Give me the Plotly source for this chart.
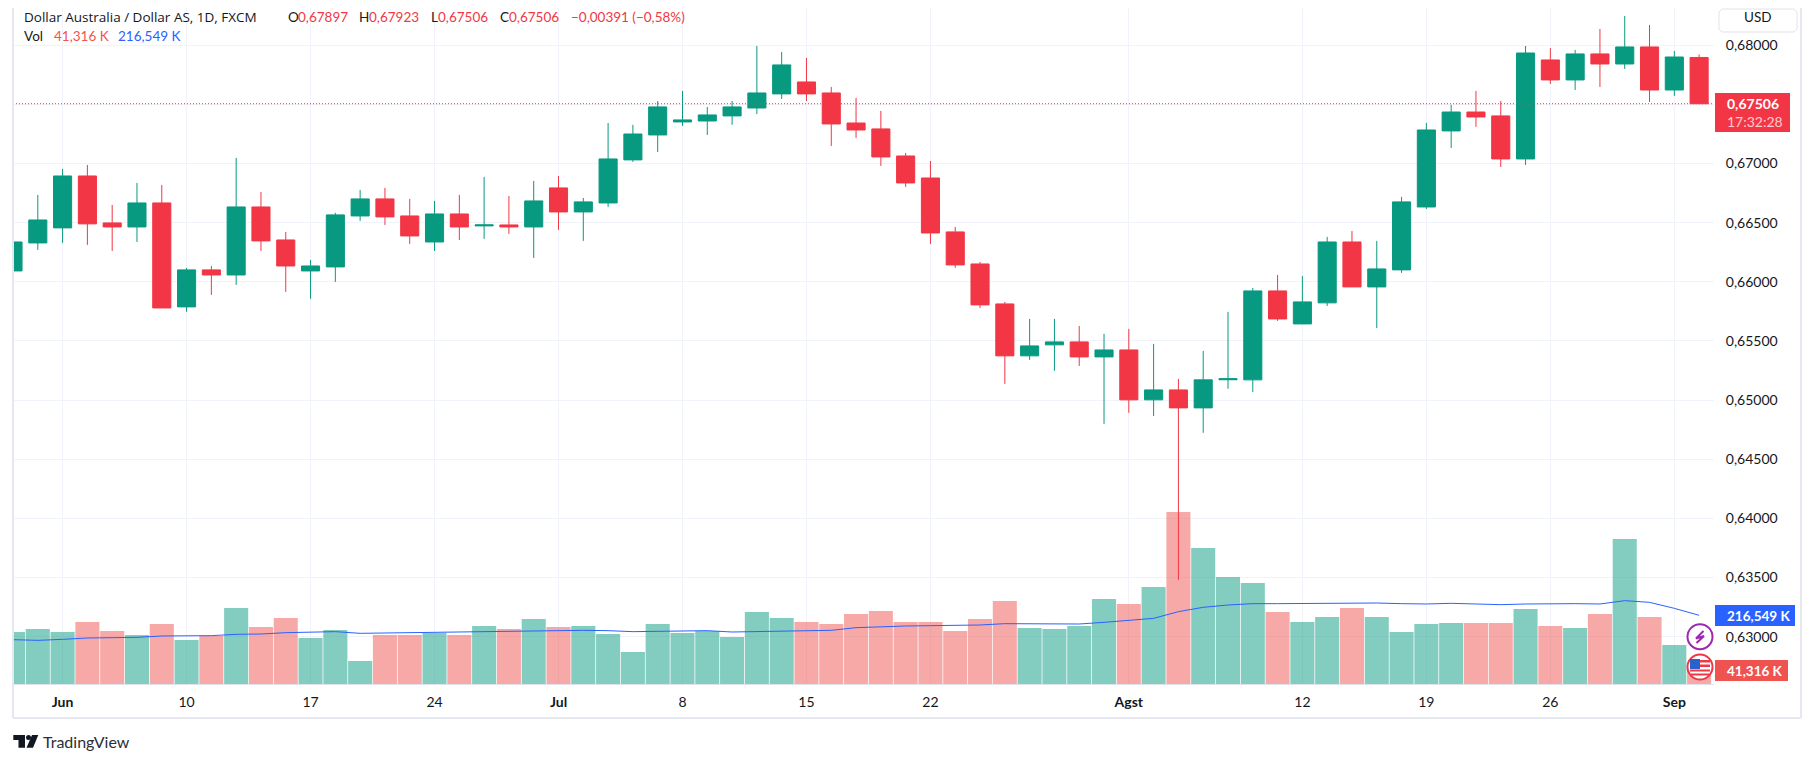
import pandas as pd
import plotly.graph_objects as go

# --- Data ---
dates = pd.bdate_range("2024-05-30", periods=69).strftime("%Y-%m-%d").tolist()

opens = [0.66092, 0.66329, 0.66456, 0.66895, 0.66498, 0.66464, 0.66667, 0.65788, 0.66101, 0.66058,
         0.66633, 0.66354, 0.66092, 0.66126, 0.66557, 0.66701, 0.66557, 0.66337, 0.66574, 0.66473,
         0.66481, 0.66464, 0.66794, 0.66591, 0.66667, 0.67031, 0.67242, 0.67352, 0.67360, 0.67403,
         0.67470, 0.67589, 0.67690, 0.67597, 0.67343, 0.67293, 0.67064, 0.66878, 0.66422, 0.66151,
         0.65813, 0.65374, 0.65467, 0.65492, 0.65365, 0.65424, 0.65002, 0.65086, 0.64934, 0.65172,
         0.65171, 0.65923, 0.65644, 0.65822, 0.66337, 0.65957, 0.66101, 0.66633, 0.67276, 0.67436,
         0.67403, 0.67039, 0.67876, 0.67707, 0.67927, 0.67842, 0.67986, 0.67622, 0.67897]
highs = [0.66337, 0.66735, 0.66955, 0.66988, 0.66650, 0.66836, 0.66819, 0.66118, 0.66134, 0.67048,
         0.66760, 0.66422, 0.66185, 0.66583, 0.66777, 0.66794, 0.66701, 0.66684, 0.66735, 0.66887,
         0.66726, 0.66853, 0.66895, 0.66709, 0.67343, 0.67327, 0.67529, 0.67614, 0.67479, 0.67529,
         0.67994, 0.67944, 0.67893, 0.67648, 0.67555, 0.67445, 0.67090, 0.67022, 0.66464, 0.66168,
         0.65830, 0.65686, 0.65686, 0.65627, 0.65560, 0.65602, 0.65475, 0.65179, 0.65416, 0.65746,
         0.65948, 0.66058, 0.66050, 0.66380, 0.66430, 0.66346, 0.66718, 0.67343, 0.67496, 0.67614,
         0.67529, 0.67994, 0.67977, 0.67961, 0.68138, 0.68248, 0.68172, 0.67952, 0.67923]
lows = [0.66092, 0.66270, 0.66329, 0.66312, 0.66261, 0.66337, 0.65779, 0.65746, 0.65889, 0.65974,
        0.66261, 0.65915, 0.65856, 0.65999, 0.66515, 0.66481, 0.66320, 0.66261, 0.66354, 0.66363,
        0.66405, 0.66202, 0.66439, 0.66346, 0.66633, 0.67014, 0.67098, 0.67318, 0.67242, 0.67327,
        0.67419, 0.67546, 0.67529, 0.67149, 0.67217, 0.66980, 0.66802, 0.66320, 0.66118, 0.65779,
        0.65137, 0.65340, 0.65247, 0.65289, 0.64799, 0.64892, 0.64866, 0.63480, 0.64723, 0.65095,
        0.65069, 0.65670, 0.65644, 0.65796, 0.65957, 0.65610, 0.66075, 0.66616, 0.67132, 0.67310,
        0.66971, 0.66988, 0.67673, 0.67622, 0.67648, 0.67800, 0.67521, 0.67572, 0.67506]
closes = [0.66337, 0.66523, 0.66895, 0.66490, 0.66464, 0.66667, 0.65779, 0.66101, 0.66058, 0.66633,
          0.66346, 0.66134, 0.66134, 0.66566, 0.66701, 0.66549, 0.66388, 0.66574, 0.66464, 0.66481,
          0.66464, 0.66684, 0.66591, 0.66676, 0.67039, 0.67250, 0.67479, 0.67369, 0.67411, 0.67479,
          0.67597, 0.67834, 0.67589, 0.67335, 0.67284, 0.67056, 0.66836, 0.66413, 0.66143, 0.65805,
          0.65374, 0.65458, 0.65492, 0.65365, 0.65424, 0.65002, 0.65086, 0.64934, 0.65171, 0.65180,
          0.65923, 0.65686, 0.65830, 0.66337, 0.65957, 0.66109, 0.66676, 0.67284, 0.67436, 0.67394,
          0.67039, 0.67935, 0.67707, 0.67927, 0.67842, 0.67986, 0.67622, 0.67901, 0.67506]

# volume and its moving average, in thousands
volume = [163.9, 173.4, 163.9, 195.4, 167.1, 154.5, 189.1, 138.7, 151.3, 239.6,
          179.7, 208.0, 145.0, 170.2, 72.5, 154.5, 154.5, 160.8, 154.5, 182.8,
          173.4, 204.9, 179.7, 182.8, 157.6, 100.9, 189.1, 160.8, 167.1, 148.1,
          227.0, 208.0, 195.4, 189.1, 220.6, 230.1, 195.4, 195.4, 167.1, 204.9,
          261.6, 176.5, 173.4, 182.8, 267.9, 252.2, 305.8, 542.2, 428.7, 337.3,
          318.4, 227.0, 195.4, 211.2, 239.6, 211.2, 163.9, 189.1, 192.3, 192.3,
          192.3, 236.4, 182.8, 176.5, 220.6, 457.1, 211.2, 122.9, 41.316]
volume_dir = ["up", "up", "up", "down", "down", "up", "down", "up", "down", "up",
              "down", "down", "up", "up", "up", "down", "down", "up", "down", "up",
              "down", "up", "down", "up", "up", "up", "up", "up", "up", "up",
              "up", "up", "down", "down", "down", "down", "down", "down", "down", "down",
              "down", "up", "up", "up", "up", "down", "up", "down", "up", "up",
              "up", "down", "up", "up", "down", "up", "up", "up", "up", "down",
              "down", "up", "down", "up", "down", "up", "down", "up", "down"]
volume_ma = [139.7, 137.6, 140.8, 145.0, 146.0, 147.1, 151.3, 151.3, 152.4, 156.6,
             157.6, 161.8, 163.9, 165.0, 159.7, 160.8, 161.8, 165.0, 166.0, 167.1,
             167.1, 169.2, 170.2, 169.2, 168.1, 165.0, 166.0, 168.1, 168.1, 163.9,
             165.0, 166.0, 167.1, 169.2, 177.6, 180.7, 182.8, 183.9, 183.9, 186.0,
             190.2, 189.1, 189.1, 189.1, 194.4, 200.7, 207.0, 228.0, 241.7, 249.0,
             253.2, 253.2, 254.3, 255.3, 256.4, 255.3, 253.2, 252.2, 254.3, 253.2,
             250.1, 252.2, 253.2, 253.2, 252.2, 262.7, 257.4, 238.5, 216.549]

tick_dates = ["2024-06-03", "2024-06-10", "2024-06-17", "2024-06-24", "2024-07-01", "2024-07-08", "2024-07-15",
              "2024-07-22", "2024-08-01", "2024-08-12", "2024-08-19", "2024-08-26", "2024-09-02"]
tick_labels = ["<b>Jun</b>", "10", "17", "24", "<b>Jul</b>", "8", "15", "22", "<b>Agst</b>", "12", "19", "26", "<b>Sep</b>"]
price_ticks = [0.63, 0.635, 0.64, 0.645, 0.65, 0.655, 0.66, 0.665, 0.67, 0.675, 0.68]
price_labels = ["0,63000", "0,63500", "0,64000", "0,64500", "0,65000", "0,65500", "0,66000", "0,66500", "0,67000", "0,67500", "0,68000"]

# --- Colours ---
GREEN = "#089981"
RED = "#f23645"
BLUE = "#2962ff"
INK = "#131722"
GRID = "#f0f3fa"
EDGE = "#e6e8ef"
FONT = "Lato"

# page has an 8px body margin, so the figure sits 8px in
LEFT, RIGHT, TOP, BOTTOM = 13, 1714, 8, 684
ROW1 = 17  # header row, kept just inside the top of the figure


def X(px):
    return (px - LEFT) / (RIGHT - LEFT)


def Y(py):
    return (BOTTOM - py) / (BOTTOM - TOP)


def box(x0, y0, x1, y1, fill, line=None):
    return dict(type="rect", xref="paper", yref="paper", x0=X(x0), x1=X(x1), y0=Y(y0), y1=Y(y1),
                fillcolor=fill, line=dict(color=line or fill, width=1 if line else 0), layer="above")


def path(points, fill=None, line=None, width=1, closed=True):
    d = "M " + " L ".join(f"{X(a):.5f},{Y(b):.5f}" for a, b in points) + (" Z" if closed else "")
    return dict(type="path", xref="paper", yref="paper", path=d, fillcolor=fill or "rgba(0,0,0,0)",
                line=dict(color=line or "rgba(0,0,0,0)", width=width), layer="above")


def circle(cx, cy, r, line, width=2):
    return dict(type="circle", xref="paper", yref="paper", x0=X(cx - r), x1=X(cx + r), y0=Y(cy + r), y1=Y(cy - r),
                fillcolor="white", line=dict(color=line, width=width), layer="above")


def label(px, py, text, color=INK, size=13.5, anchor="left", family=FONT):
    return dict(xref="paper", yref="paper", x=X(px), y=Y(py), text=text, showarrow=False, xanchor=anchor,
                yanchor="middle", borderpad=0, font=dict(family=family, size=size, color=color))


fig = go.Figure()

fig.add_trace(go.Bar(
    x=dates, y=volume, yaxis="y",
    marker=dict(color=["rgba(8,153,129,0.5)" if d == "up" else "rgba(239,83,80,0.5)" for d in volume_dir], line_width=0),
    hoverinfo="skip",
))
fig.add_trace(go.Scatter(x=dates, y=volume_ma, yaxis="y", mode="lines", line=dict(color=BLUE, width=1), hoverinfo="skip"))
fig.add_trace(go.Candlestick(
    x=dates, open=opens, high=highs, low=lows, close=closes, yaxis="y2", whiskerwidth=0,
    increasing=dict(line=dict(color=GREEN, width=1), fillcolor=GREEN),
    decreasing=dict(line=dict(color=RED, width=1), fillcolor=RED),
))

shapes = [
    # last price line
    dict(type="line", xref="paper", yref="y2", x0=0, x1=1, y0=closes[-1], y1=closes[-1],
         line=dict(color=RED, width=1, dash="1px,2px"), layer="above"),
    # frame
    dict(type="line", xref="paper", yref="paper", x0=X(13), x1=X(13), y0=Y(0), y1=Y(718), line=dict(color=EDGE, width=2)),
    dict(type="line", xref="paper", yref="paper", x0=X(13), x1=X(1801), y0=Y(718), y1=Y(718), line=dict(color=EDGE, width=2)),
    dict(type="line", xref="paper", yref="paper", x0=X(1801), x1=X(1801), y0=Y(0), y1=Y(718), line=dict(color=EDGE, width=2)),
    # USD button
    path([(1722, 9), (1794, 9), (1797, 12), (1797, 29), (1794, 32), (1722, 32), (1719, 29), (1719, 12)],
         fill="white", line="#e0e3eb", width=1),
    # price and volume tags
    box(1715, 93, 1790, 132, RED),
    box(1715, 605, 1795, 626, BLUE),
    box(1715, 660, 1788, 681, "#ef5350"),
    # lightning badge
    circle(1700, 636.7, 12.5, "#9c27b0"),
    path([(1703.5, 631), (1696, 638.5), (1704, 636), (1696.5, 643)], line="#9c27b0", width=2, closed=False),
    # flag badge
    circle(1700, 667, 12.5, RED),
    box(1690, 660, 1710, 662.5, RED),
    box(1690, 664.5, 1710, 667, RED),
    box(1690, 669.5, 1710, 671.5, RED),
    box(1691, 673.5, 1709, 675.5, RED),
    box(1690, 659, 1700, 669, "#2962c8"),
    # TradingView mark
    path([(13.3, 735), (25, 735), (25, 747.7), (18.5, 747.7), (18.5, 740), (13.3, 740)], fill=INK),
    dict(type="circle", xref="paper", yref="paper", x0=X(26), x1=X(31), y0=Y(740), y1=Y(735),
         fillcolor=INK, line_width=0, layer="above"),
    path([(32, 735), (38.3, 735), (33, 747.7), (26.5, 747.7)], fill=INK),
]

annotations = [
    label(23, ROW1, "Dollar Australia / Dollar AS, 1D, FXCM", family="Open Sans"),
    label(286.5, ROW1, "O"), label(296.6, ROW1, "0,67897", color=RED),
    label(358, ROW1, "H"), label(367.7, ROW1, "0,67923", color=RED),
    label(430, ROW1, "L"), label(437, ROW1, "0,67506", color=RED),
    label(499.4, ROW1, "C"), label(508, ROW1, "0,67506", color=RED),
    label(570, ROW1, "−0,00391 (−0,58%)", color=RED),
    label(23, 36, "Vol"),
    label(52.5, 36, "41,316 K", color="#ef5350"),
    label(117, 36, "216,549 K", color=BLUE),
    label(1743, ROW1, "USD"),
    label(1725.5, 103, "<b>0,67506</b>", color="white", size=14),
    label(1725.5, 121, "17:32:28", color="rgba(255,255,255,0.75)", size=14),
    label(1725.5, 615.5, "<b>216,549 K</b>", color="white"),
    label(1725.5, 670.5, "<b>41,316 K</b>", color="white"),
    label(42, 741.7, "TradingView", color="#2a2e39", size=16),
]

fig.update_layout(
    width=1798, height=747,
    margin=dict(l=LEFT - 8, r=1806 - RIGHT, t=TOP - 8, b=755 - BOTTOM),
    paper_bgcolor="white", plot_bgcolor="white",
    showlegend=False, bargap=0.03, boxgap=0.27, boxgroupgap=0,
    font=dict(family=FONT, size=14, color=INK),
    xaxis=dict(
        type="category", range=[0, 68.6], rangeslider=dict(visible=False),
        tickmode="array", tickvals=tick_dates, ticktext=tick_labels, ticks="outside", ticklen=5, tickcolor="white",
        showgrid=True, gridcolor=GRID, gridwidth=1, showline=True, linecolor="#e0e3eb", linewidth=1, zeroline=False,
    ),
    yaxis=dict(range=[0, 2130.8], visible=False, showgrid=False, zeroline=False),
    yaxis2=dict(
        overlaying="y", side="right", range=[0.625992, 0.683154],
        tickmode="array", tickvals=price_ticks, ticktext=price_labels, ticks="outside", ticklen=8, tickcolor="white",
        showgrid=True, gridcolor=GRID, gridwidth=1, showline=False, zeroline=False,
    ),
    shapes=shapes, annotations=annotations,
)

fig.write_html("out.html")
